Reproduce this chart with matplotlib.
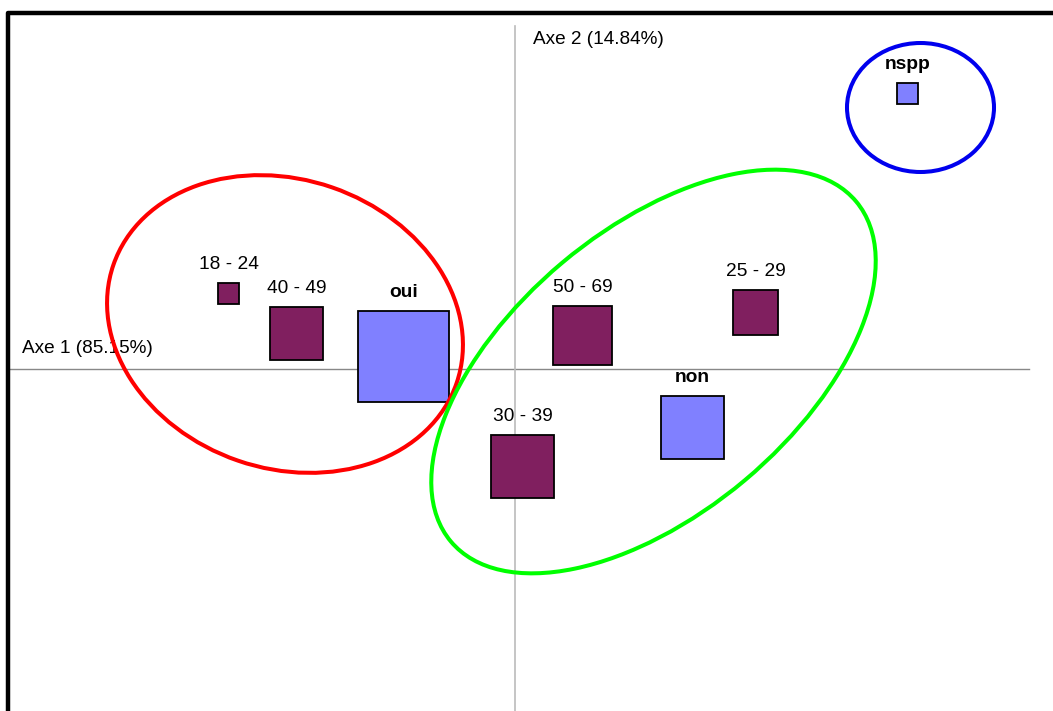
import matplotlib
matplotlib.use("Agg")
import matplotlib.pyplot as plt
from matplotlib.patches import Rectangle, Ellipse

plt.rcParams['font.family'] = ['Liberation Sans', 'DejaVu Sans']

# modalities: factor coordinates (axe 1, axe 2) and square size (mass)
labels = ['18 - 24', '40 - 49', 'oui', '50 - 69', '25 - 29', '30 - 39', 'non', 'nspp']
axe1 = [-1.146, -0.874, -0.446, 0.270, 0.962, 0.030, 0.710, 1.570]
axe2 = [0.304, 0.144, 0.052, 0.136, 0.226, -0.388, -0.234, 1.102]
mass = [0.084, 0.212, 0.364, 0.236, 0.180, 0.252, 0.252, 0.084]
is_answer = [False, False, True, False, False, False, True, True]

# groups (ellipses): centre x, centre y, width, height, angle
grp_x = [-0.920, 0.554, 1.622]
grp_y = [0.180, -0.010, 1.046]
grp_w = [1.452, 2.116, 0.588]
grp_h = [1.156, 1.136, 0.516]
grp_angle = [-19, 40, 0]
grp_color = ['#ff0000', '#00ff00', '#0000ee']

axis_titles = ['Axe 1 (85.15%)', 'Axe 2 (14.84%)']

fig = plt.figure(figsize=(10.53, 7.11), dpi=100)
ax = fig.add_axes([0, 0, 1, 1])
ax.set_xlim(-2.06, 2.152)
ax.set_ylim(-1.368, 1.476)
ax.axis('off')

# factor axes
ax.plot([-2.032, 2.056], [0, 0], color='#888888', lw=1, zorder=1)
ax.plot([0, 0], [-1.368, 1.372], color='#bbbbbb', lw=1.2, zorder=1)
ax.text(-1.972, 0.084, axis_titles[0], fontsize=13.7, va='center', ha='left')
ax.text(0.072, 1.316, axis_titles[1], fontsize=13.7, va='center', ha='left')

# frame (cropped on right and bottom)
ax.plot([-2.028, -2.028, 2.152], [-1.368, 1.424, 1.424], color='black',
        lw=3.2, solid_capstyle='projecting', clip_on=False, zorder=5)

for i in range(len(labels)):
    s = mass[i]
    fc = '#8080ff' if is_answer[i] else '#801f5f'
    ax.add_patch(Rectangle((axe1[i] - s / 2, axe2[i] - s / 2), s, s,
                           facecolor=fc, edgecolor='black', lw=1.3, zorder=3))
    ax.annotate(labels[i], xy=(axe1[i], axe2[i] + s / 2), xytext=(0, 13),
                textcoords='offset points', ha='center', va='center',
                fontsize=13.8, fontweight='bold' if is_answer[i] else 'normal',
                zorder=4)

for i in range(len(grp_x)):
    ax.add_patch(Ellipse((grp_x[i], grp_y[i]), grp_w[i], grp_h[i],
                         angle=grp_angle[i], fill=False,
                         edgecolor=grp_color[i], lw=2.9, zorder=4))

fig.savefig('out.png', dpi=100)
